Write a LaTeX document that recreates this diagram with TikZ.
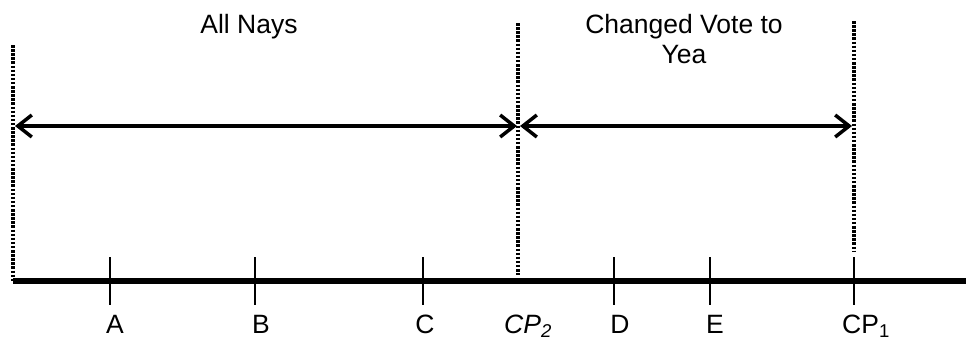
\documentclass[tikz,border=0pt]{standalone}
\usepackage{fontspec}
\setmainfont{Liberation Sans}
\usetikzlibrary{arrows.meta}
\tikzset{
  axisline/.style={line width=5.5pt},
  tickline/.style={line width=2pt},
  dotline/.style={line width=3.5pt, dash pattern=on 2.5pt off 1.6pt},
  rangearrow/.style={line width=3.5pt, {Straight Barb[length=14pt,width=22pt,line width=3.5pt]}-{Straight Barb[length=14pt,width=22pt,line width=3.5pt]}},
  lbl/.style={inner sep=0pt, font=\fontsize{26.5}{30}\selectfont, anchor=base},
}
\begin{document}
\begin{tikzpicture}[x=1pt,y=-1pt]
\useasboundingbox (0,0) rectangle (966,341);
% coordinates
\coordinate (axL) at (13,281);
\coordinate (axR) at (966,281);
\coordinate (d0t) at (13,45);
\coordinate (d0b) at (13,281);
\coordinate (d2t) at (518,23);
\coordinate (d2b) at (518,275);
\coordinate (d1t) at (854,21);
\coordinate (d1b) at (854,252);
\coordinate (a1L) at (15,126);
\coordinate (a1R) at (517,126);
\coordinate (a2L) at (520,126);
\coordinate (a2R) at (852,126);
\foreach \n/\x in {tA/110,tB/255,tC/423,tD/614,tE/710,tF/854}{
  \coordinate (\n t) at (\x,257);
  \coordinate (\n b) at (\x,305);
}
% axis and ticks
\draw[axisline] (axL) -- (axR);
\foreach \n in {tA,tB,tC,tD,tE,tF}{\draw[tickline] (\n t) -- (\n b);}
% dotted lines
\draw[dotline] (d0t) -- (d0b);
\draw[dotline] (d2t) -- (d2b);
\draw[dotline] (d1t) -- (d1b);
% arrows
\draw[rangearrow] (a1L) -- (a1R);
\draw[rangearrow] (a2L) -- (a2R);
% labels
\node[lbl] (nays) at (249,33) {All Nays};
\node[lbl] (chg) at (684,33) {Changed Vote to};
\node[lbl] (yea) at (684,63) {Yea};
\node[lbl] (lA) at (115,333) {A};
\node[lbl] (lB) at (261,333) {B};
\node[lbl] (lC) at (425,333) {C};
\node[lbl] (lCP2) at (528,333) {\itshape CP\textsubscript{2}};
\node[lbl] (lD) at (620,333) {D};
\node[lbl] (lE) at (715,333) {E};
\node[lbl] (lCP1) at (866,333) {CP\textsubscript{1}};
\end{tikzpicture}
\end{document}
